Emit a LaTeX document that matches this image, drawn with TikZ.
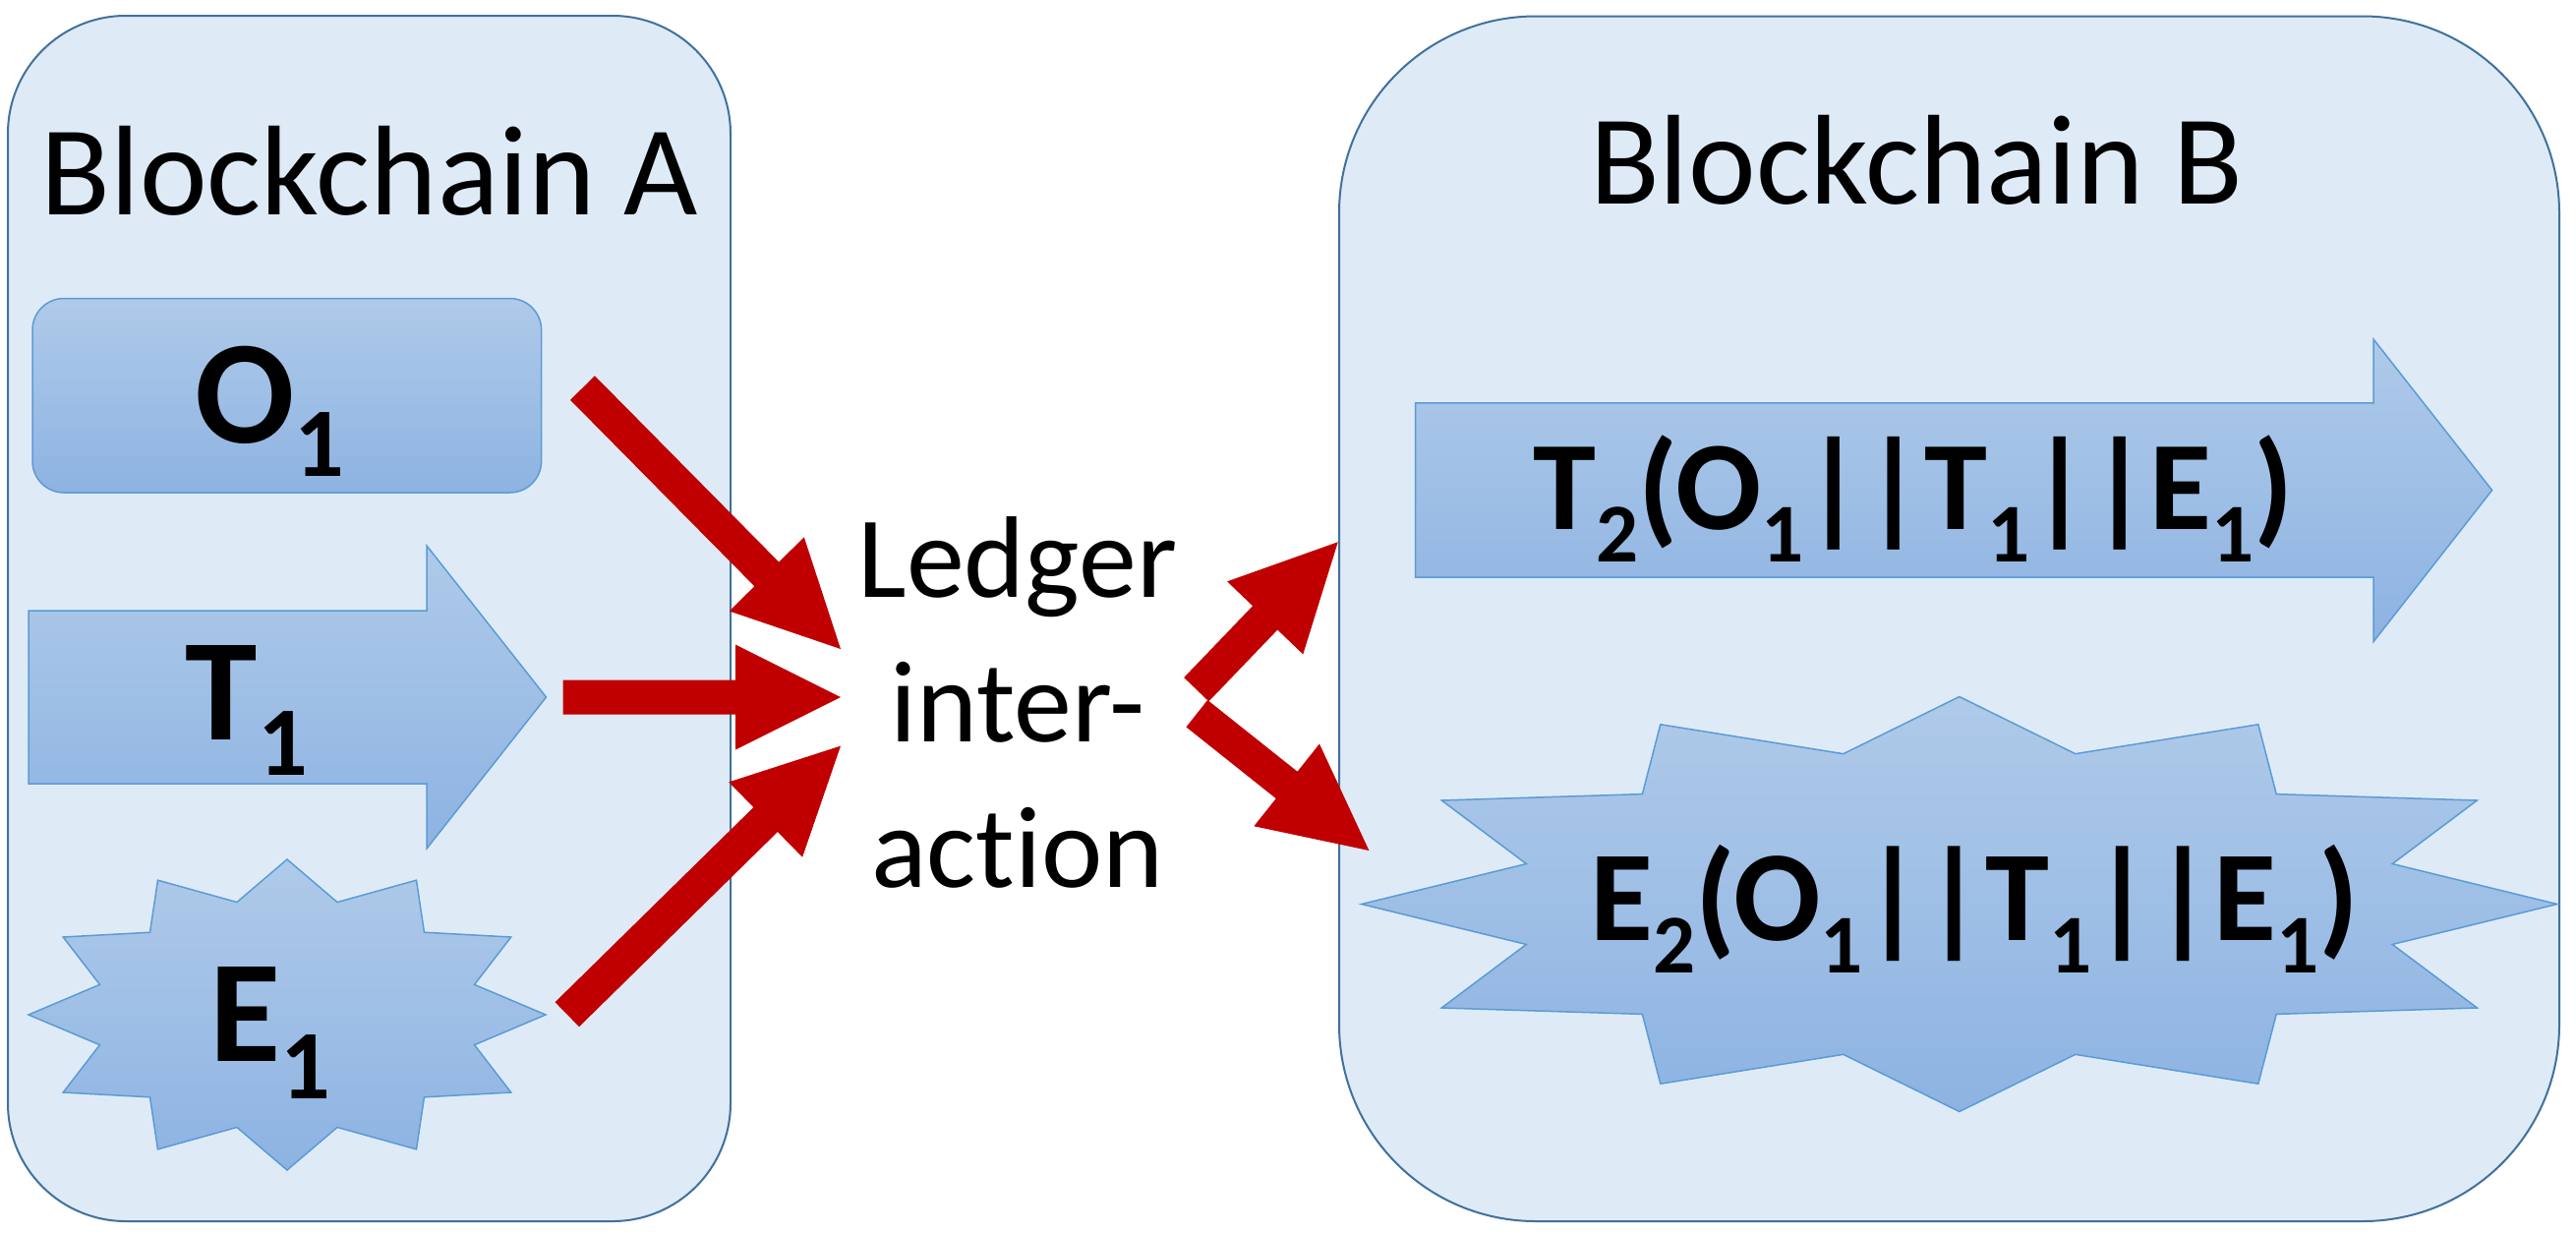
\documentclass[tikz,border=0pt]{standalone}
\usepackage{fontspec}
\setmainfont[Ligatures={NoCommon}]{Carlito}
\usetikzlibrary{calc}
\definecolor{boxfill}{HTML}{DEEBF7}
\definecolor{boxline}{HTML}{41719C}
\definecolor{shptop}{HTML}{AFCAE9}
\definecolor{shpbot}{HTML}{8DB3E2}
\definecolor{shpline}{HTML}{5B9BD5}
\definecolor{ledgerred}{HTML}{C00000}
\newcommand\mysub[3]{\raisebox{-#2pt}{\fontsize{#1}{#1}\selectfont #3}}
\newcommand\fatarrow[2]{%
  \path ($(#2)!107pt!(#1)$) coordinate (fah);
  \fill[ledgerred] ($(#1)!17.5pt!90:(#2)$) -- ($(fah)!17.5pt!90:(#2)$)
    -- ($(fah)!53.5pt!90:(#2)$) -- (#2) -- ($(fah)!53.5pt!-90:(#2)$)
    -- ($(fah)!17.5pt!-90:(#2)$) -- ($(#1)!17.5pt!-90:(#2)$) -- cycle;}
\tikzset{
  chainbox/.style={draw=boxline, line width=2pt, fill=boxfill, rectangle, inner sep=0pt},
  shp/.style={draw=shpline, line width=1.5pt, top color=shptop, bottom color=shpbot},
  title/.style={font=\fontsize{130}{156}\selectfont, anchor=base, inner sep=0pt},
  lbl/.style={anchor=base, inner sep=0pt},
}
\begin{document}
\begin{tikzpicture}[x=1pt,y=-1pt]
\useasboundingbox[fill=white] (0,0) rectangle (2620,1254);
% containers
\node[chainbox, rounded corners=120pt, minimum width=735pt, minimum height=1226pt] (chainA) at (375.5,629) {};
\node[chainbox, rounded corners=200pt, minimum width=1241pt, minimum height=1225.5pt] (chainB) at (1982.5,629.25) {};
\node[title] (titleA) at (376,218) {Blockchain A};
\node[title] (titleB) at (1949,207.6) {Blockchain B};
% O1
\node[shp, rectangle, rounded corners=32pt, minimum width=517.6pt, minimum height=197.5pt, inner sep=0pt] (o1) at (291.8,402.25) {};
\node[lbl, font=\bfseries\fontsize{150}{150}\selectfont] (o1text) at (274.3,450) {O\mysub{100}{34}{1}};
% T1 arrow
\draw[shp] (29,621) -- (434,621) -- (434,555) -- (555.5,709) -- (434,863) -- (434,797) -- (29,797) -- cycle;
\node[lbl, font=\bfseries\fontsize{148}{148}\selectfont] (t1text) at (250.8,752) {T\mysub{100}{36.5}{1}};
% E1 star
\begin{scope}[shift={(292,1032)}, xscale=263, yscale=158]
\draw[shp] (0:1) \foreach \k in {0,...,11} { -- ({\k*30}:1) -- ({\k*30+15}:0.75) } -- cycle;
\end{scope}
\node[lbl, font=\bfseries\fontsize{148}{148}\selectfont] (e1text) at (275,1079.6) {E\mysub{100}{37.5}{1}};
% T2 arrow
\draw[shp] (1439.6,409.8) -- (2414,409.8) -- (2414,345) -- (2534.6,498.5) -- (2414,652.6) -- (2414,587) -- (1439.6,587) -- cycle;
\node[lbl, font=\bfseries\fontsize{129}{129}\selectfont] (t2text) at (1946,538) {T\mysub{85}{33}{2}(O\mysub{85}{33}{1}||T\mysub{85}{33}{1}||E\mysub{85}{33}{1})};
% E2 star
\begin{scope}[shift={(1992.8,919.5)}, xscale=608, yscale=211]
\draw[shp] (0:1) \foreach \k in {0,...,11} { -- ({\k*30}:1) -- ({\k*30+15}:0.75) } -- cycle;
\end{scope}
\node[lbl, font=\bfseries\fontsize{131}{131}\selectfont] (e2text) at (2008.3,956) {E\mysub{85}{33}{2}(O\mysub{85}{33}{1}||T\mysub{85}{33}{1}||E\mysub{85}{33}{1})};
% ledger text (base anchor = last line)
\node[lbl, align=center, font=\fontsize{118}{147.3}\selectfont] (ledger) at (1035,902) {Ledger\\inter-\\action};
% red arrows
\coordinate (a1s) at (592.5,394.5); \coordinate (a1e) at (855,660);
\coordinate (a2s) at (572.7,709);   \coordinate (a2e) at (855,709);
\coordinate (a3s) at (576.8,1031.7); \coordinate (a3e) at (855,758.6);
\coordinate (a4s) at (1216.8,701.2); \coordinate (a4e) at (1360.8,551.2);
\coordinate (a5s) at (1217.3,725.7); \coordinate (a5e) at (1392.4,865);
\fatarrow{a1s}{a1e}
\fatarrow{a2s}{a2e}
\fatarrow{a3s}{a3e}
\fatarrow{a4s}{a4e}
\fatarrow{a5s}{a5e}
\end{tikzpicture}
\end{document}
